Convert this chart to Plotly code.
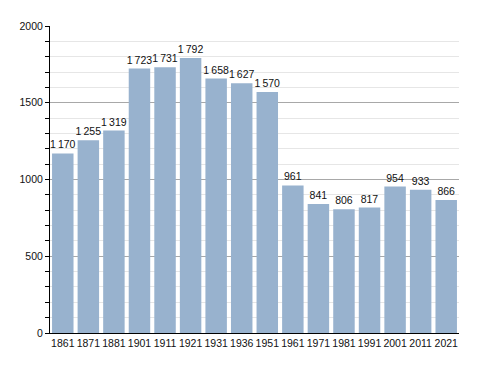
import plotly.graph_objects as go

years = ["1861", "1871", "1881", "1901", "1911", "1921", "1931", "1936", "1951",
         "1961", "1971", "1981", "1991", "2001", "2011", "2021"]
population = [1170, 1255, 1319, 1723, 1731, 1792, 1658, 1627, 1570,
              961, 841, 806, 817, 954, 933, 866]
y_ticks = [0, 500, 1000, 1500, 2000]


def fmt(v):
    s = f"{v:,}"
    return s.replace(",", "\u2009")


labels = [fmt(v) for v in population]

FONT = "Liberation Sans, Arial, sans-serif"

fig = go.Figure(
    go.Bar(
        x=years,
        y=population,
        text=labels,
        textposition="outside",
        constraintext="none",
        cliponaxis=False,
        textfont=dict(family=FONT, size=10.5, color="#111111"),
        marker=dict(color="#98b2ce", line=dict(width=0)),
        hoverinfo="x+y",
    )
)

# page body has an 8px default margin, so the figure is sized to fit the window
fig.update_layout(
    width=480,
    height=365,
    margin=dict(l=42, r=29, t=13, b=40),
    paper_bgcolor="white",
    plot_bgcolor="white",
    bargap=0.16,
    showlegend=False,
    font=dict(family=FONT, size=10.5, color="#111111"),
)

fig.update_xaxes(
    type="category",
    showline=True,
    linecolor="black",
    linewidth=1,
    ticks="",
    showgrid=False,
    tickfont=dict(size=10.5),
)

fig.update_yaxes(
    range=[0, 2000],
    tickvals=y_ticks,
    ticktext=[str(v) for v in y_ticks],
    showline=True,
    linecolor="black",
    linewidth=1,
    ticks="outside",
    ticklen=4,
    tickcolor="black",
    showgrid=True,
    gridcolor="#a8a8a8",
    gridwidth=1,
    zeroline=False,
    tickfont=dict(size=10.5),
    minor=dict(dtick=100, showgrid=True, gridcolor="#e6e6e6", ticks="outside",
               ticklen=4, tickcolor="black"),
)

fig.write_html("out.html")
